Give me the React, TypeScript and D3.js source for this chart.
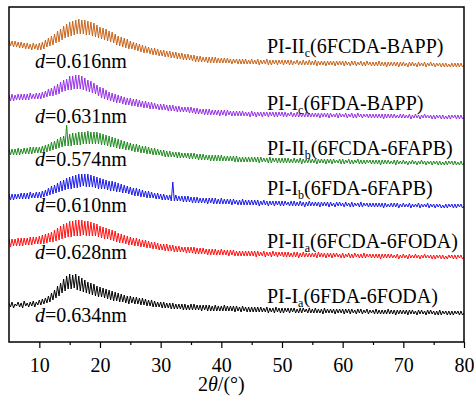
import React, { useEffect, useRef } from 'react';
import * as d3 from 'd3';

// 2theta grid, 5..80 deg every 0.25 deg
const twoTheta = d3.range(5, 80.001, 0.25);

const mainPart = ['PI-II', 'PI-I', 'PI-II', 'PI-I', 'PI-II', 'PI-I'];
const subPart = ['c', 'c', 'b', 'b', 'a', 'a'];
const monomers = ['(6FCDA-BAPP)', '(6FDA-BAPP)', '(6FCDA-6FAPB)', '(6FDA-6FAPB)', '(6FCDA-6FODA)', '(6FDA-6FODA)'];
const dSpacing = ['0.616', '0.631', '0.574', '0.610', '0.628', '0.634'];
const stackOffset = [277, 225, 179, 136, 85, 29];

// intensities (a.u.) above each curve's own baseline, one row = 5 deg
const intPIIIc = [
  25, 19, 24, 18, 24, 18, 23, 17, 23, 17, 22, 16, 22, 16, 21, 15, 22, 16, 21, 15,
  22, 15, 23, 16, 25, 18, 27, 19, 29, 20, 31, 22, 34, 23, 36, 25, 39, 27, 41, 28,
  43, 29, 44, 30, 45, 31, 46, 31, 45, 31, 45, 30, 44, 30, 43, 29, 42, 28, 40, 27,
  38, 26, 37, 25, 36, 24, 34, 23, 33, 22, 31, 20, 29, 19, 28, 18, 27, 17, 26, 16,
  24, 16, 23, 15, 22, 14, 21, 13, 20, 12, 19, 12, 18, 11, 17, 10, 17, 10, 16, 9,
  15, 9, 15, 8, 14, 8, 14, 7, 13, 7, 13, 6, 12, 6, 12, 5, 11, 5, 11, 5,
  10, 4, 10, 3, 9, 3, 9, 3, 8, 3, 8, 2, 8, 2, 8, 2, 8, 2, 7, 2,
  7, 2, 7, 2, 7, 2, 6, 1, 6, 2, 6, 1, 6, 1, 6, 1, 6, 1, 5, 1,
  6, 1, 5, 1, 6, 0, 5, 1, 5, 1, 6, 0, 5, 0, 5, 1, 5, 0, 5, 1,
  5, 0, 5, 1, 5, 0, 5, 0, 4, 1, 5, 0, 4, 0, 5, 0, 4, 0, 5, 0,
  4, 0, 5, -1, 4, 0, 4, 0, 4, -1, 4, 0, 4, 0, 4, -1, 4, 0, 4, 0,
  4, -1, 4, 0, 3, -1, 4, 0, 4, -1, 3, 0, 4, -1, 3, -1, 4, 0, 3, -1,
  3, -1, 3, -1, 4, -1, 3, -1, 3, -2, 3, -1, 3, -1, 3, -1, 3, -2, 3, -1,
  3, -1, 2, -2, 3, -1, 3, -1, 2, -2, 3, -1, 2, -1, 3, -2, 2, -1, 3, -1,
  2, -2, 2, -1, 2, -2, 2, -2, 2, -2, 1, -2, 2, -2, 2, -2, 2, -2, 2, -2,
  0,
];
const intPIIc = [
  22, 16, 23, 16, 22, 17, 23, 17, 23, 17, 23, 17, 23, 17, 24, 18, 23, 18, 24, 18,
  24, 18, 25, 19, 26, 20, 28, 21, 29, 21, 31, 22, 33, 23, 35, 25, 37, 26, 38, 27,
  41, 27, 41, 28, 42, 28, 42, 28, 41, 27, 39, 26, 37, 25, 36, 24, 34, 23, 32, 21,
  30, 19, 29, 18, 27, 17, 25, 16, 24, 15, 23, 14, 22, 14, 21, 13, 20, 12, 19, 12,
  19, 11, 18, 11, 18, 10, 17, 10, 16, 9, 16, 9, 15, 8, 15, 8, 14, 8, 13, 7,
  13, 7, 13, 7, 12, 6, 12, 6, 12, 6, 11, 5, 11, 5, 10, 5, 10, 5, 10, 4,
  10, 4, 9, 3, 9, 3, 8, 3, 8, 2, 8, 2, 8, 2, 7, 2, 7, 2, 7, 1,
  7, 2, 7, 1, 7, 2, 6, 1, 6, 1, 6, 1, 6, 1, 6, 1, 5, 1, 5, 0,
  6, 1, 5, 0, 5, 1, 5, 0, 5, 1, 5, 0, 5, 1, 5, 0, 5, 0, 5, 1,
  5, 0, 5, 0, 4, 1, 5, 0, 4, 0, 5, 0, 4, 0, 4, 0, 5, 0, 4, 0,
  4, 0, 4, 0, 4, -1, 4, 0, 4, 0, 4, -1, 4, 0, 3, 0, 4, -1, 4, 0,
  3, 0, 4, -1, 3, 0, 4, -1, 3, -1, 4, 0, 3, -1, 3, 0, 3, -1, 3, -1,
  3, -1, 3, -1, 3, -1, 3, -2, 3, -1, 3, -1, 3, -1, 3, -1, 2, -1, 3, -1,
  3, -1, 2, -1, 3, -2, 2, -1, 3, -1, 2, -2, 2, -1, 3, -1, 2, -1, 2, -2,
  2, -2, 2, -1, 2, -2, 2, -2, 1, -2, 2, -2, 2, -1, 2, -2, 2, -2, 2, -2,
  0,
];
const intPIIIb = [
  14, 8, 14, 8, 14, 8, 15, 8, 14, 9, 15, 9, 15, 9, 16, 9, 16, 10, 16, 10,
  16, 10, 17, 11, 18, 11, 19, 12, 21, 13, 22, 14, 24, 15, 26, 16, 27, 17, 38, 17,
  29, 17, 30, 18, 30, 18, 31, 18, 31, 19, 31, 19, 32, 19, 31, 19, 31, 19, 31, 19,
  30, 18, 29, 18, 28, 17, 27, 16, 26, 16, 25, 15, 24, 14, 23, 14, 22, 13, 21, 13,
  20, 12, 19, 11, 19, 11, 18, 10, 17, 10, 17, 9, 16, 9, 15, 8, 15, 8, 14, 8,
  13, 7, 13, 6, 12, 6, 12, 6, 11, 6, 11, 5, 11, 5, 10, 5, 10, 5, 10, 4,
  10, 4, 10, 4, 9, 3, 9, 3, 9, 3, 8, 3, 8, 2, 8, 2, 8, 2, 8, 2,
  8, 2, 7, 2, 7, 2, 7, 2, 7, 1, 7, 1, 6, 1, 6, 1, 6, 1, 6, 1,
  6, 1, 6, 1, 6, 0, 6, 1, 5, 1, 5, 0, 6, 0, 5, 1, 5, 0, 5, 0,
  5, 0, 5, 0, 5, 0, 4, 0, 5, 0, 4, 0, 5, -1, 4, 0, 4, 0, 5, 0,
  4, 0, 4, -1, 4, 0, 4, 0, 4, -1, 4, 0, 4, -1, 4, 0, 3, 0, 4, -1,
  4, -1, 3, 0, 4, -1, 3, -1, 3, 0, 4, -1, 3, -1, 3, -1, 3, 0, 3, -1,
  3, -1, 3, -1, 3, -2, 3, -1, 3, -1, 3, -1, 2, -1, 3, -2, 3, -1, 2, -1,
  3, -1, 2, -2, 2, -1, 3, -1, 2, -2, 2, -1, 3, -1, 2, -2, 2, -1, 2, -2,
  2, -1, 2, -2, 2, -2, 1, -2, 2, -2, 2, -1, 2, -2, 2, -2, 1, -2, 2, -2,
  0,
];
const intPIIb = [
  12, 6, 12, 6, 12, 7, 12, 7, 13, 7, 13, 7, 13, 7, 14, 8, 13, 8, 14, 8,
  14, 8, 15, 9, 16, 10, 18, 11, 20, 12, 21, 13, 23, 14, 25, 15, 26, 16, 28, 17,
  29, 17, 30, 18, 31, 18, 32, 19, 32, 20, 32, 19, 32, 19, 31, 19, 30, 18, 29, 17,
  28, 17, 27, 17, 26, 16, 25, 15, 25, 15, 24, 14, 23, 14, 22, 13, 21, 13, 20, 12,
  19, 11, 18, 10, 18, 10, 17, 9, 16, 9, 15, 8, 15, 8, 14, 8, 13, 7, 13, 7,
  12, 6, 12, 6, 11, 6, 11, 5, 24, 5, 11, 5, 10, 5, 10, 4, 10, 4, 10, 4,
  9, 3, 9, 3, 9, 3, 8, 3, 8, 3, 8, 2, 8, 3, 8, 2, 8, 2, 7, 2,
  8, 2, 7, 2, 7, 2, 7, 1, 7, 2, 6, 1, 6, 1, 7, 1, 6, 1, 6, 1,
  6, 1, 6, 1, 6, 0, 5, 1, 6, 1, 5, 0, 5, 1, 5, 0, 5, 1, 5, 0,
  5, 0, 5, 1, 4, 0, 5, 0, 5, 0, 4, 0, 5, 0, 4, -1, 4, 0, 5, 0,
  4, 0, 4, 0, 4, -1, 4, 0, 4, 0, 4, -1, 4, 0, 3, -1, 4, 0, 4, 0,
  3, -1, 4, 0, 3, -1, 4, -1, 3, 0, 3, -1, 4, -1, 3, 0, 3, -1, 3, -1,
  3, -1, 3, -1, 3, -1, 3, -2, 3, -1, 2, -1, 3, -1, 3, -1, 3, -2, 2, -1,
  3, -1, 2, -1, 3, -2, 2, -1, 2, -1, 3, -2, 2, -1, 2, -1, 3, -2, 2, -1,
  2, -2, 2, -1, 2, -2, 1, -2, 2, -2, 2, -1, 2, -2, 2, -2, 2, -1, 2, -2,
  0,
];
const intPIIIa = [
  18, 10, 18, 11, 18, 11, 19, 11, 19, 11, 19, 12, 19, 12, 20, 12, 20, 13, 20, 13,
  21, 13, 22, 13, 23, 14, 24, 15, 25, 15, 27, 16, 29, 17, 31, 18, 33, 19, 34, 20,
  36, 20, 36, 21, 37, 21, 37, 21, 37, 22, 36, 21, 36, 21, 35, 21, 34, 21, 33, 20,
  31, 19, 30, 18, 29, 18, 28, 17, 27, 16, 26, 15, 24, 14, 23, 14, 22, 13, 21, 12,
  20, 12, 19, 11, 19, 11, 18, 10, 17, 10, 17, 9, 16, 9, 15, 8, 15, 8, 14, 7,
  13, 7, 13, 6, 13, 6, 12, 6, 12, 5, 11, 5, 11, 5, 10, 5, 10, 4, 10, 4,
  10, 4, 10, 3, 9, 3, 9, 3, 9, 3, 8, 2, 8, 2, 8, 2, 8, 2, 7, 2,
  8, 2, 7, 2, 7, 1, 7, 2, 7, 1, 6, 1, 6, 1, 6, 1, 6, 1, 6, 1,
  6, 1, 6, 0, 6, 1, 5, 1, 6, 0, 5, 1, 5, 0, 6, 1, 5, 0, 5, 1,
  5, 0, 5, 0, 5, 0, 4, 0, 5, 0, 5, -1, 4, 0, 5, 0, 4, 0, 4, 0,
  4, 0, 4, -1, 5, 0, 4, 0, 4, -1, 4, 0, 4, -1, 4, 0, 4, 0, 3, -1,
  4, -1, 3, 0, 4, -1, 3, -1, 4, 0, 3, -1, 3, -1, 4, -1, 3, 0, 3, -1,
  3, -1, 3, -1, 3, -2, 3, -1, 3, -1, 3, -1, 3, -1, 2, -1, 3, -2, 2, -1,
  3, -1, 2, -2, 3, -1, 2, -1, 3, -1, 2, -2, 2, -1, 3, -1, 2, -1, 2, -2,
  2, -2, 2, -1, 2, -2, 2, -2, 1, -2, 2, -1, 2, -2, 2, -2, 2, -1, 2, -2,
  0,
];
const intPIIa = [
  10, 6, 11, 5, 9, 7, 11, 6, 10, 5, 12, 7, 10, 6, 11, 7, 12, 6, 11, 8,
  13, 8, 14, 9, 15, 10, 17, 11, 20, 13, 23, 15, 27, 17, 30, 20, 34, 22, 37, 24,
  39, 24, 38, 25, 39, 23, 37, 22, 35, 21, 33, 20, 31, 19, 30, 18, 29, 17, 27, 16,
  26, 16, 25, 15, 24, 14, 23, 13, 22, 12, 21, 12, 20, 11, 19, 11, 18, 10, 17, 9,
  17, 10, 16, 9, 16, 9, 15, 8, 15, 8, 14, 7, 13, 7, 13, 6, 12, 6, 11, 6,
  11, 5, 11, 5, 10, 5, 10, 4, 10, 4, 9, 4, 9, 4, 9, 3, 9, 3, 8, 3,
  9, 3, 9, 3, 8, 3, 8, 2, 8, 3, 8, 2, 8, 2, 7, 2, 8, 2, 7, 2,
  7, 2, 8, 2, 7, 2, 7, 2, 7, 1, 7, 2, 6, 1, 7, 2, 6, 1, 6, 1,
  6, 1, 6, 1, 6, 1, 6, 1, 5, 1, 6, 0, 5, 1, 5, 0, 6, 1, 5, 0,
  5, 0, 5, 1, 5, 0, 5, 1, 5, 0, 4, 0, 5, 0, 5, 1, 4, 0, 5, 0,
  4, 0, 5, 0, 4, 0, 4, -1, 5, 0, 4, 0, 4, 0, 4, -1, 4, 0, 4, 0,
  4, -1, 4, 0, 4, -1, 4, 0, 3, -1, 4, 0, 4, -1, 3, 0, 4, -1, 3, 0,
  3, -1, 4, -1, 3, -1, 3, -1, 3, -1, 4, -1, 3, -1, 3, -2, 3, -1, 3, -1,
  3, -1, 3, -2, 3, -1, 3, -1, 2, -2, 3, -1, 3, -1, 2, -2, 3, -1, 3, -1,
  2, -2, 2, -2, 3, -2, 2, -1, 2, -2, 2, -2, 2, -2, 2, -1, 2, -2, 2, -2,
  0,
];

const intensities = [intPIIIc, intPIIc, intPIIIb, intPIIb, intPIIIa, intPIIa];
const colors = ['#c8641a', '#9632e6', '#1f8a1f', '#1a1aee', '#ff1010', '#000000'];

const xMajorTicks = [10, 20, 30, 40, 50, 60, 70, 80];
const xMinorTicks = [15, 25, 35, 45, 55, 65, 75];

// label placement relative to each curve's baseline (a.u.)
const nameLift = [12, 7, 8, 11, 9, 10];
const dDrop = [3, 6, 3, 6, 2, 9];

const W = 474, H = 400;
const FONT = "'Liberation Serif', 'Times New Roman', serif";

export default function App() {
  const ref = useRef<SVGSVGElement>(null);

  useEffect(() => {
    const svg = d3.select(ref.current);
    svg.selectAll('*').remove();

    const left = 9, right = 464, top = 7, bottom = 342;
    const x = d3.scaleLinear().domain([5, 80]).range([left, right]);
    const y = d3.scaleLinear().domain([0, bottom - top]).range([bottom, top]);

    svg.append('defs').append('clipPath').attr('id', 'plotclip')
      .append('rect').attr('x', left).attr('y', top).attr('width', right - left).attr('height', bottom - top);

    const g = svg.append('g');

    intensities.forEach((vals, k) => {
      const line = d3.line<number>()
        .x((_, i) => x(twoTheta[i]))
        .y(d => y(stackOffset[k] + d));
      g.append('path')
        .attr('clip-path', 'url(#plotclip)')
        .attr('fill', 'none')
        .attr('stroke', colors[k])
        .attr('stroke-width', 1)
        .attr('d', line(vals));
    });

    // frame
    g.append('rect')
      .attr('x', left).attr('y', top)
      .attr('width', right - left).attr('height', bottom - top)
      .attr('fill', 'none').attr('stroke', '#000').attr('stroke-width', 1.5);

    const ax = g.append('g').attr('transform', `translate(0,${bottom})`)
      .call(d3.axisBottom(x).tickValues(xMajorTicks).tickSize(6).tickPadding(10).tickSizeOuter(0).tickFormat(d3.format('d')));
    ax.select('.domain').remove();
    ax.attr('font-family', null).attr('font-size', null);
    ax.selectAll('line').attr('stroke-width', 1.2);
    ax.selectAll('text').style('font-family', FONT).style('font-size', '20px').attr('fill', '#000');

    const axm = g.append('g').attr('transform', `translate(0,${bottom})`)
      .call(d3.axisBottom(x).tickValues(xMinorTicks).tickSize(3).tickFormat(() => '').tickSizeOuter(0));
    axm.select('.domain').remove();
    axm.selectAll('line').attr('stroke-width', 1.2);

    // axis title
    const title = g.append('text').attr('x', 198).attr('y', 391)
      .style('font-family', FONT).style('font-size', '20px').attr('fill', '#000');
    title.append('tspan').text('2');
    title.append('tspan').style('font-style', 'italic').text('θ');
    title.append('tspan').text('/(°)');

    // curve labels
    mainPart.forEach((name, k) => {
      const floorY = y(stackOffset[k]);
      const t = g.append('text').attr('x', 267).attr('y', floorY - nameLift[k])
        .style('font-family', FONT).style('font-size', '20px').attr('fill', '#000');
      t.append('tspan').text(name);
      t.append('tspan').style('font-size', '12px').attr('dy', 4).text(subPart[k]);
      t.append('tspan').attr('dy', -4).text(monomers[k]);

      const d = g.append('text').attr('x', 35).attr('y', floorY + dDrop[k])
        .style('font-family', FONT).style('font-size', '20px').attr('fill', '#000');
      d.append('tspan').style('font-style', 'italic').text('d');
      d.append('tspan').text(`=${dSpacing[k]}nm`);
    });
  }, []);

  return (
    <svg ref={ref} width={W} height={H}
      style={{ position: 'absolute', left: 0, top: 0, background: '#fff', fontFamily: FONT }} />
  );
}
